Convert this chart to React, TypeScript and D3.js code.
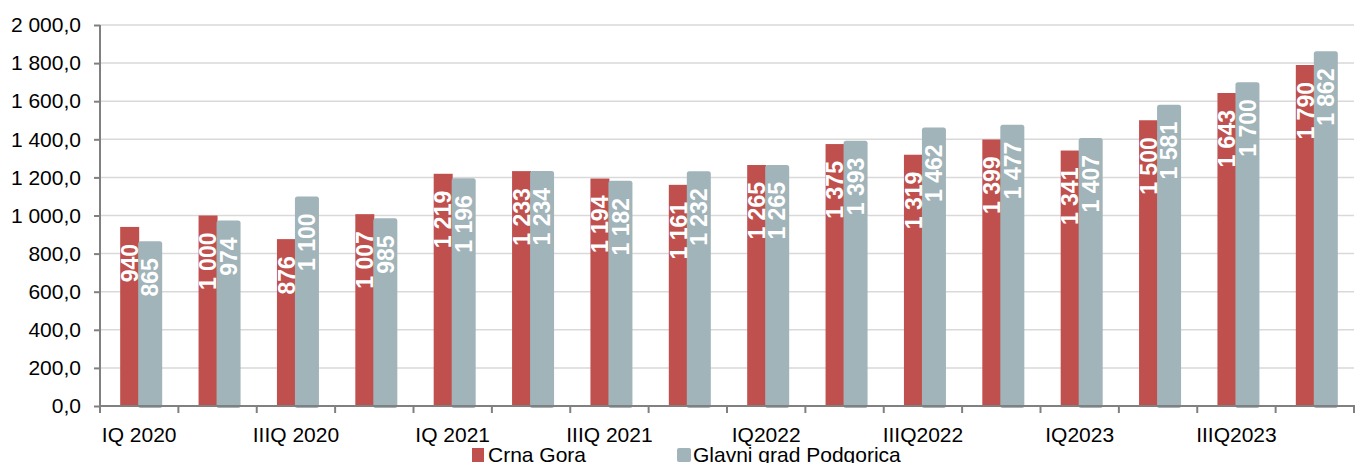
import React, { useEffect, useRef } from 'react';
import * as d3 from 'd3';

const categories = [
  'IQ 2020', 'IIQ 2020', 'IIIQ 2020', 'IVQ 2020',
  'IQ 2021', 'IIQ 2021', 'IIIQ 2021', 'IVQ 2021',
  'IQ2022', 'IIQ2022', 'IIIQ2022', 'IVQ2022',
  'IQ2023', 'IIQ2023', 'IIIQ2023', 'IVQ2023',
];
const crnaGora = [940, 1000, 876, 1007, 1219, 1233, 1194, 1161, 1265, 1375, 1319, 1399, 1341, 1500, 1643, 1790];
const podgorica = [865, 974, 1100, 985, 1196, 1234, 1182, 1232, 1265, 1393, 1462, 1477, 1407, 1581, 1700, 1862];
const yTicks = [0, 200, 400, 600, 800, 1000, 1200, 1400, 1600, 1800, 2000];
const seriesNames = ['Crna Gora', 'Glavni grad Podgorica'];
const colors = ['#C0504D', '#A0B4BA'];

const W = 1357;
const H = 463;

// "1 000" style grouping with comma decimals
const fmtInt = (v: number) => d3.format(',')(v).replace(/,/g, '\u00a0');
const fmtTick = (v: number) => d3.format(',.1f')(v).replace(/,/g, ' ').replace('.', ',');

const App: React.FC = () => {
  const svgRef = useRef<SVGSVGElement>(null);

  useEffect(() => {
    document.body.style.margin = '0';
    if (!svgRef.current) return;
    const svg = d3.select(svgRef.current);
    svg.selectAll('*').remove();

    const left = 100, right = 1354, top = 25, bottom = 406;
    const font = 'Liberation Sans, Arial, sans-serif';

    const x = d3.scaleBand<string>().domain(categories).range([left, right]);
    const y = d3.scaleLinear().domain([0, 2000]).range([bottom, top]);

    // grid
    svg.append('g')
      .selectAll('line')
      .data(yTicks.filter(t => t > 0))
      .enter()
      .append('line')
      .attr('x1', left)
      .attr('x2', right)
      .attr('y1', d => y(d))
      .attr('y2', d => y(d))
      .attr('stroke', '#d9d9d9')
      .attr('stroke-width', 1.5);

    // bars
    const redW = 19;
    const greyW = 24;
    const groups = svg.append('g')
      .selectAll('g')
      .data(categories)
      .enter()
      .append('g');

    groups.append('rect')
      .attr('x', (d) => (x(d) as number) + x.bandwidth() / 2 - redW)
      .attr('y', (d, i) => y(crnaGora[i]))
      .attr('width', redW)
      .attr('height', (d, i) => bottom - y(crnaGora[i]))
      .attr('fill', colors[0]);

    groups.append('rect')
      .attr('x', (d) => (x(d) as number) + x.bandwidth() / 2 - 1)
      .attr('y', (d, i) => y(podgorica[i]))
      .attr('width', greyW)
      .attr('height', (d, i) => bottom - y(podgorica[i]) + 2)
      .attr('rx', 2.5)
      .attr('fill', colors[1]);

    const addLabels = (vals: number[], offset: number) => {
      groups.append('text')
        .attr('transform', (d, i) => {
          const cx = (x(d) as number) + x.bandwidth() / 2 + offset;
          const cy = y(vals[i]) + 17;
          return `translate(${cx},${cy}) rotate(-90)`;
        })
        .attr('dy', '0.36em')
        .attr('text-anchor', 'end')
        .attr('fill', '#fff')
        .attr('font-family', font)
        .attr('font-weight', 'bold')
        .attr('font-size', 23)
        .text((d, i) => fmtInt(vals[i]));
    };
    addLabels(crnaGora, -redW / 2);
    addLabels(podgorica, greyW / 2 - 1);

    // y axis
    const yAxis = svg.append('g')
      .attr('transform', `translate(${left},0)`)
      .call(d3.axisLeft(y).tickValues(yTicks).tickSize(6).tickPadding(13).tickFormat(d => fmtTick(d as number)));
    yAxis.select('.domain').attr('stroke', '#808080').attr('stroke-width', 2).attr('d', `M0,${top}V${bottom}`);
    yAxis.selectAll('.tick line').attr('stroke', '#808080').attr('stroke-width', 2);
    yAxis.selectAll('.tick text')
      .attr('fill', '#000')
      .attr('font-family', font)
      .attr('font-size', 21);

    // x axis
    const xg = svg.append('g');
    xg.append('line')
      .attr('x1', left).attr('x2', right + 1)
      .attr('y1', bottom).attr('y2', bottom)
      .attr('stroke', '#808080').attr('stroke-width', 2);
    const bounds = categories.map(c => x(c) as number).concat([x.range()[1]]);
    xg.selectAll('line.tick')
      .data(bounds)
      .enter()
      .append('line')
      .attr('class', 'tick')
      .attr('x1', d => d).attr('x2', d => d)
      .attr('y1', bottom).attr('y2', bottom + 7)
      .attr('stroke', '#808080').attr('stroke-width', 2);
    xg.selectAll('text')
      .data(categories.filter((c, i) => i % 2 === 0))
      .enter()
      .append('text')
      .attr('x', d => (x(d) as number) + x.bandwidth() / 2)
      .attr('y', 442)
      .attr('text-anchor', 'middle')
      .attr('font-family', font)
      .attr('font-size', 21)
      .attr('fill', '#000')
      .text(d => d);

    // legend
    const legendX = [472, 677];
    const lg = svg.append('g');
    seriesNames.forEach((name, i) => {
      lg.append('rect')
        .attr('x', legendX[i])
        .attr('y', 448)
        .attr('width', i === 0 ? 12 : 14)
        .attr('height', 14)
        .attr('rx', i === 0 ? 0 : 2)
        .attr('fill', colors[i]);
      lg.append('text')
        .attr('x', legendX[i] + 16)
        .attr('y', 462)
        .attr('font-family', font)
        .attr('font-size', 21)
        .attr('fill', '#000')
        .text(name);
    });
  }, []);

  return <svg ref={svgRef} width={W} height={H} style={{ display: 'block', background: '#fff' }} />;
};

export default App;
